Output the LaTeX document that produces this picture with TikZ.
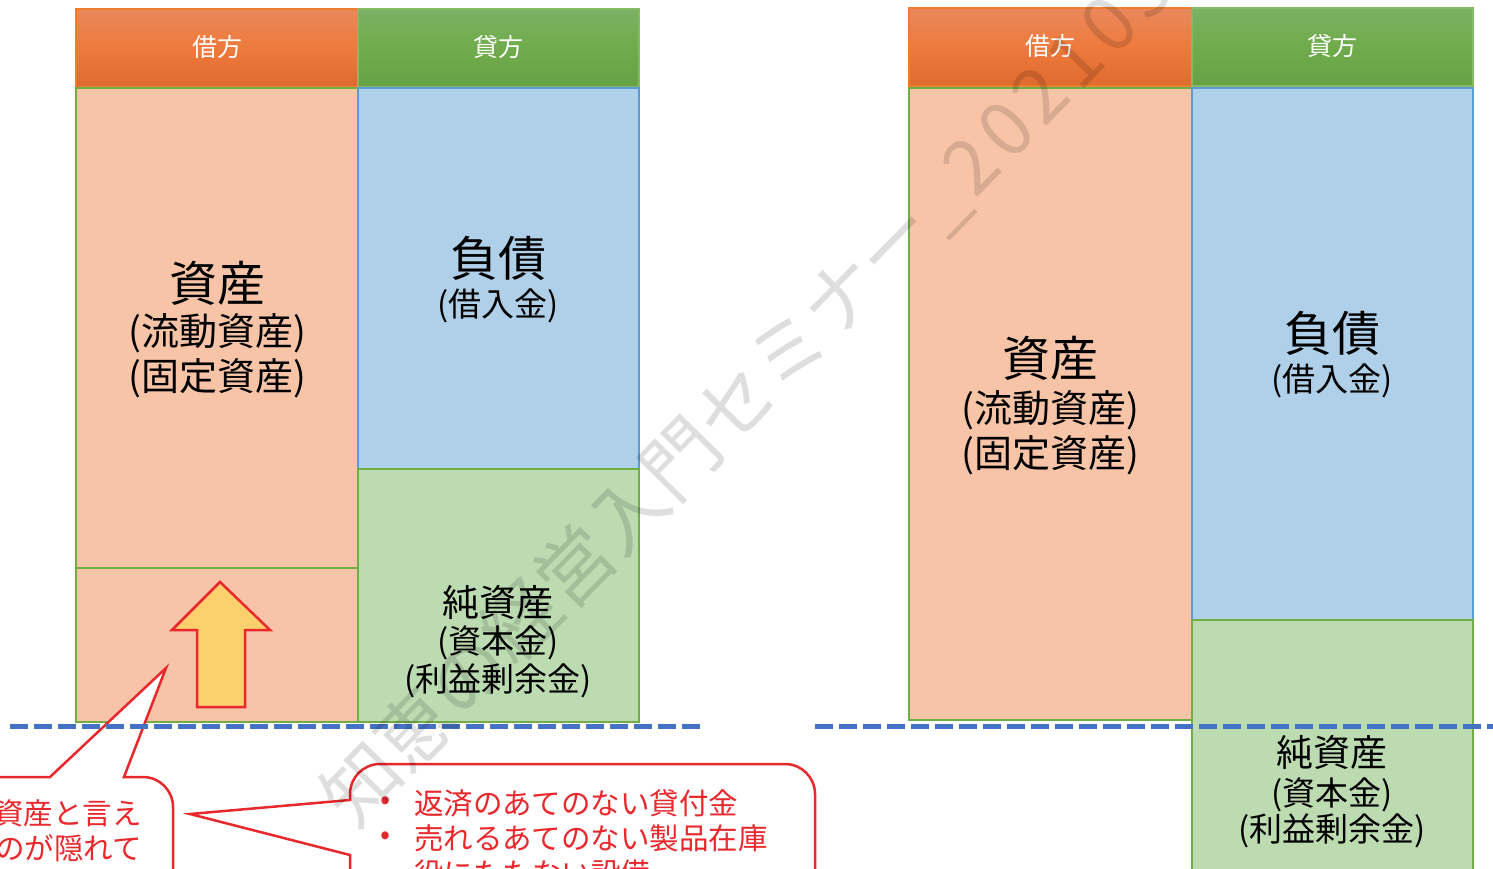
\documentclass[tikz,border=0pt]{standalone}
\usepackage{fontspec}
\setmainfont{Noto Sans CJK JP}
\definecolor{peach}{HTML}{F8C4A8}
\definecolor{lblue}{HTML}{AFD0E8}
\definecolor{lgreen}{HTML}{BCDBB1}
\definecolor{bgreen}{HTML}{70AD47}
\definecolor{bblue}{HTML}{5B9BD5}
\definecolor{dblue}{HTML}{4472C4}
\definecolor{cred}{HTML}{E8282C}
\definecolor{gold}{HTML}{FDD06E}
\definecolor{oTop}{HTML}{EA885C}
\definecolor{oMid}{HTML}{EE7A3C}
\definecolor{oBot}{HTML}{DE6A2E}
\definecolor{oBord}{HTML}{ED7D31}
\definecolor{gTop}{HTML}{7BB063}
\definecolor{gMid}{HTML}{70AC4B}
\definecolor{gBot}{HTML}{66A146}
\definecolor{gBord}{HTML}{84BA63}
\tikzset{
  cell/.style={rectangle, inner sep=0pt, outer sep=0pt, line width=2.5pt, anchor=north west},
  hdrO/.style={cell, draw=oBord, line width=2pt, top color=oTop, bottom color=oBot, middle color=oMid},
  hdrG/.style={cell, draw=gBord, line width=2pt, top color=gTop, bottom color=gBot, middle color=gMid},
  assetbox/.style={cell, fill=peach, draw=bgreen},
  debtbox/.style={cell, fill=lblue, draw=bblue},
  equitybox/.style={cell, fill=lgreen, draw=bgreen},
  hdrtext/.style={text=white, inner sep=0pt, font=\fontsize{25}{25}\selectfont},
  bigtext/.style={inner sep=0pt, font=\fontsize{48}{48}\selectfont},
  midtext/.style={inner sep=0pt, font=\fontsize{38}{38}\selectfont},
  eqtitle/.style={inner sep=0pt, font=\fontsize{37}{37}\selectfont},
  subtext/.style={inner sep=0pt, font=\fontsize{33}{33}\selectfont},
  ctext/.style={inner sep=0pt, text=cred, font=\fontsize{29.5}{29.5}\selectfont},
  callout/.style={draw=cred, fill=white, line width=2.5pt, line join=miter},
  baseline dash/.style={draw=dblue, line width=5pt, dash pattern=on 18pt off 6pt},
  uparrow/.style={draw=cred, fill=gold, line width=2.5pt, line join=miter},
  wmark/.style={inner sep=0pt, text=black, text opacity=0.13, font=\fontsize{76}{76}\selectfont}
}
\newcommand{\dg}{\hspace{7pt}}
\begin{document}
\begin{tikzpicture}[x=1pt,y=-1pt]
\useasboundingbox (0,0) rectangle (1493,869);
\clip (0,0) rectangle (1493,869);
\fill[white] (0,0) rectangle (1493,869);

% ---------- left balance sheet ----------
\node[hdrO, minimum width=282pt, minimum height=78pt] (LH1) at (76,9) {};
\node[hdrG, minimum width=281pt, minimum height=78pt] (LH2) at (358,9) {};
\node[hdrtext] (LH1t) at (217,47) {借方};
\node[hdrtext] (LH2t) at (498,47) {貸方};

\node[assetbox, minimum width=282pt, minimum height=480pt] (LA) at (76,88) {};
\node[assetbox, minimum width=282pt, minimum height=154pt] (LA2) at (76,568) {};
\node[debtbox, minimum width=281pt, minimum height=381pt] (LD) at (358,88) {};
\node[equitybox, minimum width=281pt, minimum height=253pt] (LE) at (358,469) {};

\node[bigtext] (LAt1) at (217,283) {資産};
\node[midtext] (LAt2) at (217,333) {(流動資産)};
\node[midtext] (LAt3) at (217,378) {(固定資産)};
\node[bigtext] (LDt1) at (498,258) {負債};
\node[subtext] (LDt2) at (498,306) {(借入金)};
\node[eqtitle] (LEt1) at (498,602) {純資産};
\node[subtext] (LEt2) at (498,643) {(資本金)};
\node[subtext] (LEt3) at (498,681) {(利益剰余金)};

\draw[uparrow] (220,582) -- (270,630) -- (245,630) -- (245,707) -- (197,707) -- (197,630) -- (172,630) -- cycle;

% ---------- right balance sheet ----------
\node[hdrO, minimum width=283pt, minimum height=78pt] (RH1) at (909,8) {};
\node[hdrG, minimum width=281pt, minimum height=78pt] (RH2) at (1192,8) {};
\node[hdrtext] (RH1t) at (1050,46) {借方};
\node[hdrtext] (RH2t) at (1332,46) {貸方};

\node[assetbox, minimum width=283pt, minimum height=632pt] (RA) at (909,88) {};
\node[debtbox, minimum width=281pt, minimum height=532pt] (RD) at (1192,88) {};
\node[equitybox, minimum width=281pt, minimum height=300pt] (RE) at (1192,620) {};

\node[bigtext] (RAt1) at (1050,358) {資産};
\node[midtext] (RAt2) at (1050,410) {(流動資産)};
\node[midtext] (RAt3) at (1050,455) {(固定資産)};
\node[bigtext] (RDt1) at (1332,333) {負債};
\node[subtext] (RDt2) at (1332,381) {(借入金)};
\node[eqtitle] (REt1) at (1332,752) {純資産};
\node[subtext] (REt2) at (1332,795) {(資本金)};
\node[subtext] (REt3) at (1332,831) {(利益剰余金)};

% ---------- callouts ----------
\draw[callout] (-20,777) -- (50,777) -- (166,668) -- (124,777) -- (143,777)
  .. controls (159.6,777) and (173,790.4) .. (173,807) -- (173,900) -- (-20,900) -- cycle;
\node[ctext, anchor=east] (C1a) at (142,813) {資産と言え};
\node[ctext, anchor=east] (C1b) at (142,848) {のが隠れて};

\draw[callout] (350,855) -- (190,814) -- (350,800) -- (350,794)
  .. controls (350,777.4) and (363.4,764) .. (380,764) -- (785,764)
  .. controls (801.6,764) and (815,777.4) .. (815,794) -- (815,900) -- (350,900) -- cycle;
\node[ctext] (C2b1) at (386,803) {•};
\node[ctext] (C2b2) at (386,838) {•};
\node[ctext, anchor=west] (C2a) at (414,803) {返済のあてのない貸付金};
\node[ctext, anchor=west] (C2b) at (414,838) {売れるあてのない製品在庫};
\node[ctext, anchor=west] (C2c) at (414,873) {役にたたない設備};

% ---------- dashed baseline ----------
\coordinate (DL1) at (10,726);
\coordinate (DL2) at (702,726);
\coordinate (DR1) at (815,726);
\coordinate (DR2) at (1510,726);
\draw[baseline dash] (DL1) -- (DL2);
\draw[baseline dash] (DR1) -- (DR2);

% ---------- watermark ----------
\node[wmark, rotate=45.5, anchor=west] (WM) at (336,812) {知恵の経営入門セミナー\_\dg 2\dg 0\dg 2\dg 1\dg 0\dg 5};
\end{tikzpicture}
\end{document}
